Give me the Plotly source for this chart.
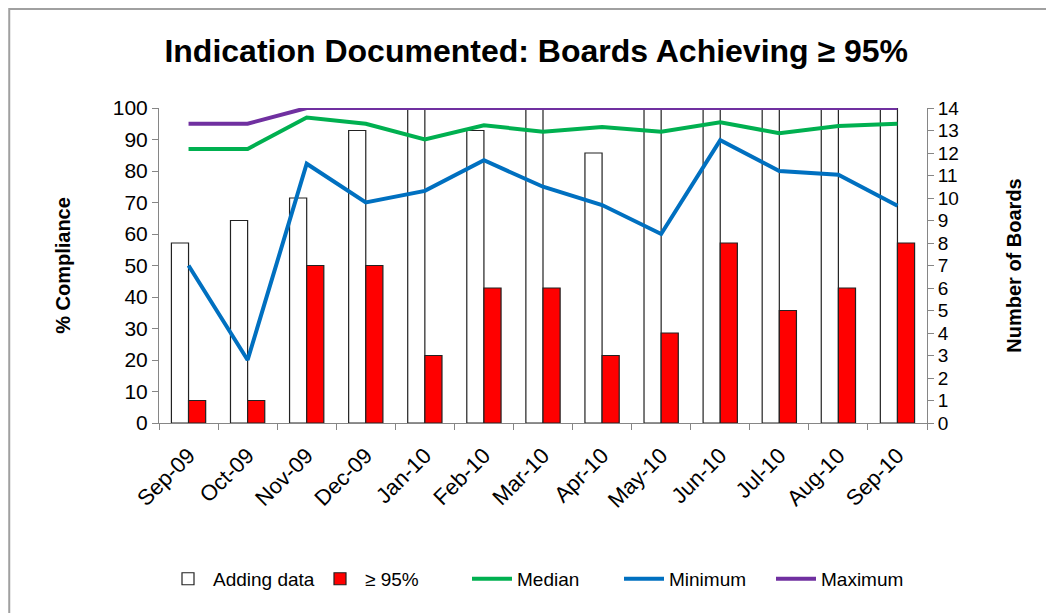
import plotly.graph_objects as go

months = ["Sep-09", "Oct-09", "Nov-09", "Dec-09", "Jan-10", "Feb-10", "Mar-10",
          "Apr-10", "May-10", "Jun-10", "Jul-10", "Aug-10", "Sep-10"]

# number of boards (right axis)
adding_data = [8, 9, 10, 13, 14, 13, 14, 12, 14, 14, 14, 14, 14]
achieving_95 = [1, 1, 7, 7, 3, 6, 6, 3, 4, 8, 5, 6, 8]

# % compliance (left axis)
median = [87, 87, 97, 95, 90, 94.5, 92.5, 94, 92.5, 95.5, 92, 94.3, 95]
minimum = [50, 20, 82.3, 70, 73.7, 83.4, 75, 69.2, 60, 89.8, 80, 78.8, 69]
maximum = [95, 95, 100, 100, 100, 100, 100, 100, 100, 100, 100, 100, 100]

FONT = "Liberation Sans, Arial, sans-serif"
AXIS_GREY = "#868686"

fig = go.Figure()

fig.add_trace(go.Bar(x=months, y=adding_data, name="Adding data",
                     marker={'color': 'white', 'line': {'color': '#222222', 'width': 1.2}},
                     yaxis='y'))
fig.add_trace(go.Bar(x=months, y=achieving_95, name="≥ 95%",
                     marker={'color': '#FF0000', 'line': {'color': '#222222', 'width': 1.2}},
                     yaxis='y'))

fig.add_trace(go.Scatter(x=months, y=median, name="Median", mode='lines',
                         line={'color': '#00B050', 'width': 4}, yaxis='y2'))
fig.add_trace(go.Scatter(x=months, y=minimum, name="Minimum", mode='lines',
                         line={'color': '#0070C0', 'width': 4}, yaxis='y2'))
fig.add_trace(go.Scatter(x=months, y=maximum, name="Maximum", mode='lines',
                         line={'color': '#7030A0', 'width': 4}, yaxis='y2'))

axis_common = {
    'showline': True,
    'linecolor': AXIS_GREY,
    'linewidth': 1,
    'ticks': 'outside',
    'ticklen': 6,
    'tickcolor': AXIS_GREY,
    'showgrid': False,
    'zeroline': False,
    'tickfont': {'size': 21, 'color': 'black', 'family': FONT},
}

fig.update_layout(
    width=1046, height=605,
    margin={'l': 151, 'r': 127, 't': 100, 'b': 190, 'autoexpand': False},
    paper_bgcolor='white',
    plot_bgcolor='white',
    barmode='group',
    bargap=0.42,
    bargroupgap=0,
    font={'family': FONT, 'color': 'black'},
    title={'text': "<b>Indication Documented: Boards Achieving ≥ 95%</b>",
           'x': 0.505, 'xanchor': 'center', 'y': 0.93, 'yanchor': 'middle',
           'font': {'size': 32, 'family': FONT}},
    xaxis={**axis_common, 'tickangle': -45, 'tickson': 'boundaries',
           'ticklabelstandoff': 10,
           'tickfont': {'size': 22, 'color': 'black', 'family': FONT}},
    yaxis={**axis_common, 'side': 'right', 'range': [0, 14], 'dtick': 1,
           'title': {'text': "<b>Number of Boards</b>", 'font': {'size': 20}, 'standoff': 48},
           'tickfont': {'size': 19, 'color': 'black', 'family': FONT}},
    yaxis2={**axis_common, 'side': 'left', 'overlaying': 'y', 'range': [0, 100], 'dtick': 10,
            'title': {'text': "<b>% Compliance</b>", 'font': {'size': 20}, 'standoff': 36}},
    legend={'orientation': 'h', 'x': 0.5, 'xanchor': 'center', 'y': -0.495, 'yanchor': 'middle',
            'font': {'size': 19, 'family': FONT}, 'traceorder': 'normal',
            'entrywidth': 97, 'itemwidth': 40},
    shapes=[
        # chart border
        {'type': 'rect', 'xref': 'paper', 'yref': 'paper',
         'x0': -0.195, 'x1': 1.3, 'y0': -0.7, 'y1': 1.314,
         'line': {'color': '#A0A0A0', 'width': 2}, 'layer': 'below'},
    ],
)

fig.write_html("out.html")
